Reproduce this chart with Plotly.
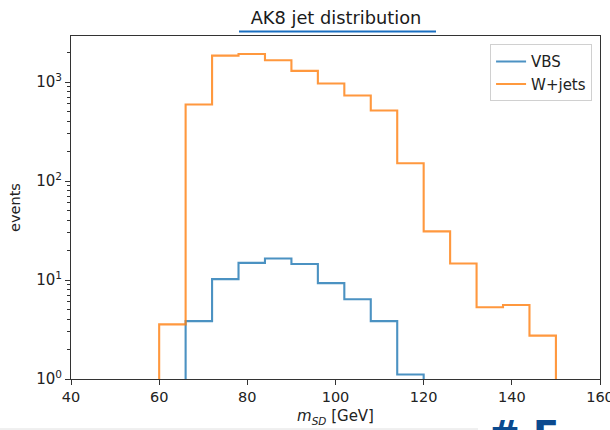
import plotly.graph_objects as go

# ---- data ----
bin_edges = [60, 66, 72, 78, 84, 90, 96, 102, 108, 114, 120, 126, 132, 138, 144, 150]
vbs_counts = [0, 3.84, 10.2, 14.9, 16.5, 14.5, 9.3, 6.4, 3.84, 1.11, 0, 0, 0, 0, 0]
wjets_counts = [3.56, 593, 1850, 1920, 1660, 1295, 966, 731, 516, 151, 31, 14.7, 5.3, 5.6, 2.74]
series_names = ["VBS", "W+jets"]
series_colors = ["#1f77b4", "#ff7f0e"]
x_ticks = [40, 60, 80, 100, 120, 140, 160]
y_ticks = [1, 10, 100, 1000]
y_ticktext = ["10<sup>0</sup>", "10<sup>1</sup>", "10<sup>2</sup>", "10<sup>3</sup>"]

BOTTOM = 0.01  # below the axis floor, clipped by the plot area


def step_outline(edges, counts):
    # matplotlib histtype='step': trim empty bins at both ends
    nz = [i for i, c in enumerate(counts) if c > 0]
    i0, i1 = nz[0], nz[-1]
    xs, ys = [edges[i0]], [BOTTOM]
    for i in range(i0, i1 + 1):
        c = counts[i] if counts[i] > 0 else BOTTOM
        xs += [edges[i], edges[i + 1]]
        ys += [c, c]
    xs.append(edges[i1 + 1])
    ys.append(BOTTOM)
    return xs, ys


fig = go.Figure()
for name, counts, color in zip(series_names, [vbs_counts, wjets_counts], series_colors):
    xs, ys = step_outline(bin_edges, counts)
    fig.add_trace(go.Scatter(x=xs, y=ys, mode="lines", name=name,
                             line=dict(color=color, width=2.1), opacity=0.8))

font_main = "DejaVu Sans, sans-serif"
minor_vals = [m * 10 ** e for e in range(0, 4) for m in range(2, 10)]

fig.update_layout(
    width=610, height=430,
    margin=dict(l=71, r=10, t=36, b=51, autoexpand=False),
    paper_bgcolor="white", plot_bgcolor="white",
    font=dict(family=font_main, size=14, color="#222"),
    title=dict(text="AK8 jet distribution", x=(336) / 610, xanchor="center",
               y=1 - 18 / 430, yanchor="middle",
               font=dict(size=17.8, color="#1a1a1a")),
    showlegend=True,
    legend=dict(x=0.985, y=0.976, xanchor="right", yanchor="top",
                bgcolor="rgba(255,255,255,0.8)", bordercolor="#d0d0d0", borderwidth=1,
                font=dict(size=15, color="#222"), tracegroupgap=0),
    xaxis=dict(range=[40, 160], tickvals=x_ticks, ticks="outside", ticklen=5,
               tickcolor="#333", showline=True, linecolor="#333", linewidth=1,
               mirror=True, showgrid=False, zeroline=False,
               ticklabeloverflow="allow", automargin=False,
               tickfont=dict(size=14.5, color="#222"),
               title=dict(text="<i>m</i><sub><i>SD</i></sub> [GeV]", standoff=6,
                          font=dict(size=15, color="#222"))),
    yaxis=dict(type="log", range=[0, 3.465], tickvals=y_ticks, ticktext=y_ticktext,
               ticks="outside", ticklen=5, tickcolor="#333",
               showline=True, linecolor="#333", linewidth=1, mirror=True,
               showgrid=False, zeroline=False, automargin=False,
               tickfont=dict(size=15, color="#222"),
               minor=dict(tickvals=minor_vals, ticks="outside", ticklen=3,
                          tickcolor="#333", showgrid=False),
               title=dict(text="events", standoff=12, font=dict(size=14.5, color="#222"))),
)

# title underline (screenshot artifact)
fig.add_shape(type="line", xref="paper", yref="paper",
              x0=(239 - 71) / 529, x1=(436 - 71) / 529,
              y0=(379 - 31.5) / 343, y1=(379 - 31.5) / 343,
              line=dict(color="#1a6fc0", width=2))
# light separator line at the bottom edge
fig.add_shape(type="line", xref="paper", yref="paper",
              x0=-71 / 529, x1=(478 - 71) / 529,
              y0=(379 - 429) / 343, y1=(379 - 429) / 343,
              line=dict(color="#e0e0e0", width=1))
# partial logo at the bottom right
fig.add_annotation(text="<b># F</b>", xref="paper", yref="paper",
                   x=(486 - 71) / 529, y=(379 - 410) / 343,
                   xanchor="left", yanchor="top", showarrow=False,
                   font=dict(family="DejaVu Sans, sans-serif", size=38, color="#0b4a8f"))

fig.write_html("out.html")
